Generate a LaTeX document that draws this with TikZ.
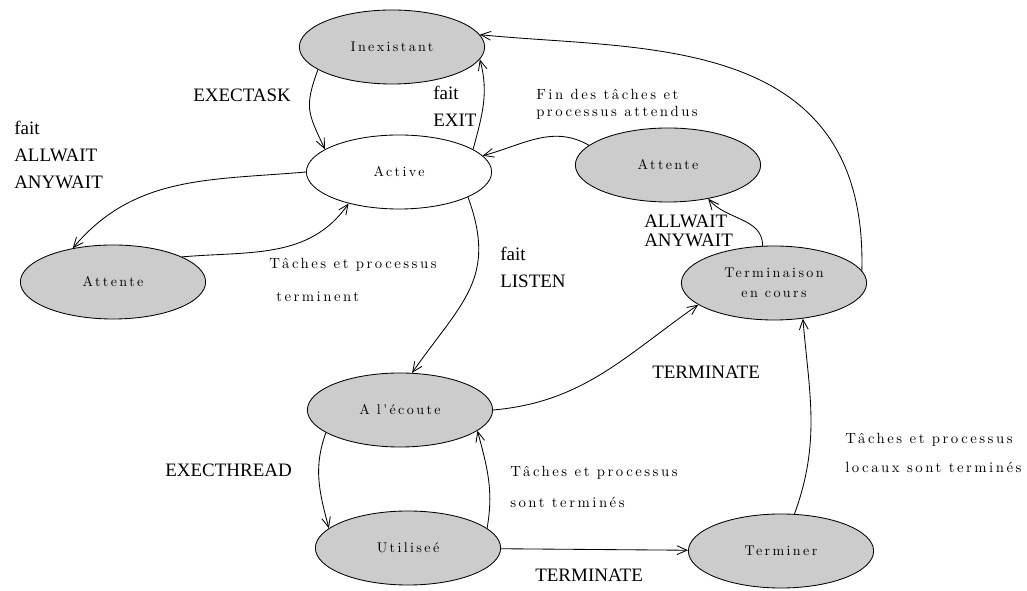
\documentclass[tikz,border=0pt]{standalone}
\usepackage{fontspec}
\newfontfamily\labelfont{Liberation Serif}
\newfontfamily\spacedfont[LetterSpace=17]{lmroman10-regular.otf}
\usetikzlibrary{arrows.meta,shapes.geometric}
\tikzset{
  state/.style={ellipse,draw,line width=0.6pt,fill=black!20,align=center,
    minimum width=4.63cm,minimum height=1.85cm,
    font=\spacedfont\fontsize{10}{14.5}\selectfont},
  trans/.style={-{Straight Barb[length=2.5mm,width=2.2mm]},line width=0.6pt},
  cmd/.style={inner sep=0pt,anchor=west,align=left,
    font=\labelfont\fontsize{13.5}{19}\selectfont},
  note/.style={inner sep=0pt,anchor=west,align=left,
    font=\spacedfont\fontsize{10.5}{12.5}\selectfont}
}

\begin{document}
\begin{tikzpicture}[x=0.025cm,y=0.025cm]
    \useasboundingbox (0,0) rectangle (1027,591);

    \node[state] (inex) at (392,544) {Inexistant};
    \node[state,fill=white] (active) at (399,419) {Active};
    \node[state] (attL) at (113,309) {Attente};
    \node[state] (attR) at (668,426) {Attente};
    \node[state] (term) at (774,308) {Terminaison\\en cours};
    \node[state] (ecoute) at (400,181) {A l'écoute};
    \node[state] (util) at (408,43) {Utiliseé};
    \node[state] (fin) at (781,40) {Terminer};

    \draw[trans] (inex.197) to[out=250,in=115,looseness=1.3] (active.163);
    \draw[trans] (active.17) to[out=75,in=-75] (inex.352);
    \draw[trans] (term.8) .. controls (868,560) and (640,540) .. (inex.8);
    \draw[trans] (attR.166) to[out=150,in=15] (active.11);
    \draw[trans] (active.180) to[out=185,in=50] (attL.140);
    \draw[trans] (attL.20) to[out=5,in=235] (active.212);
    \draw[trans] (active.-20) to[out=-70,in=55,looseness=1.2] (ecoute.72);
    \draw[trans] (ecoute.0) to[out=5,in=215] (term.196);
    \draw[trans] (ecoute.197) to[out=250,in=105] (util.166);
    \draw[trans] (util.14) to[out=80,in=-75] (ecoute.345);
    \draw[trans] (util) -- (fin);
    \draw[trans] (fin.70) to[out=70,in=-85] (term.-51);
    \draw[trans] (term.107) to[out=90,in=-50] (attR.-40);

    \node[cmd] (lexec) at (193,496) {EXECTASK};
    \node[cmd] (lexit) at (433,485) {fait\\EXIT};
    \node[cmd] (lwait) at (14,436) {fait\\ALLWAIT\\ANYWAIT};
    \node[cmd] (llisten) at (500,323.5) {fait\\LISTEN};
    \node[cmd,font=\labelfont\fontsize{13.5}{13}\selectfont] (lwait2) at (644,360) {ALLWAIT\\ANYWAIT};
    \node[cmd] (lterm) at (652,219) {TERMINATE};
    \node[cmd] (lthread) at (165,121) {EXECTHREAD};
    \node[cmd] (lterm2) at (535,16) {TERMINATE};

    \node[note] (nfin) at (536,486.5) {Fin des tâches et\\processus attendus};
    \node[note] (ntache) at (269,311.5) {Tâches et processus\\[11pt]\hspace{5pt}terminent};
    \node[note] (nsont) at (510,104) {Tâches et processus\\[10pt]sont terminés};
    \node[note] (nlocaux) at (845,138) {Tâches et processus\\[7.5pt]locaux sont terminés};
\end{tikzpicture}
\end{document}
